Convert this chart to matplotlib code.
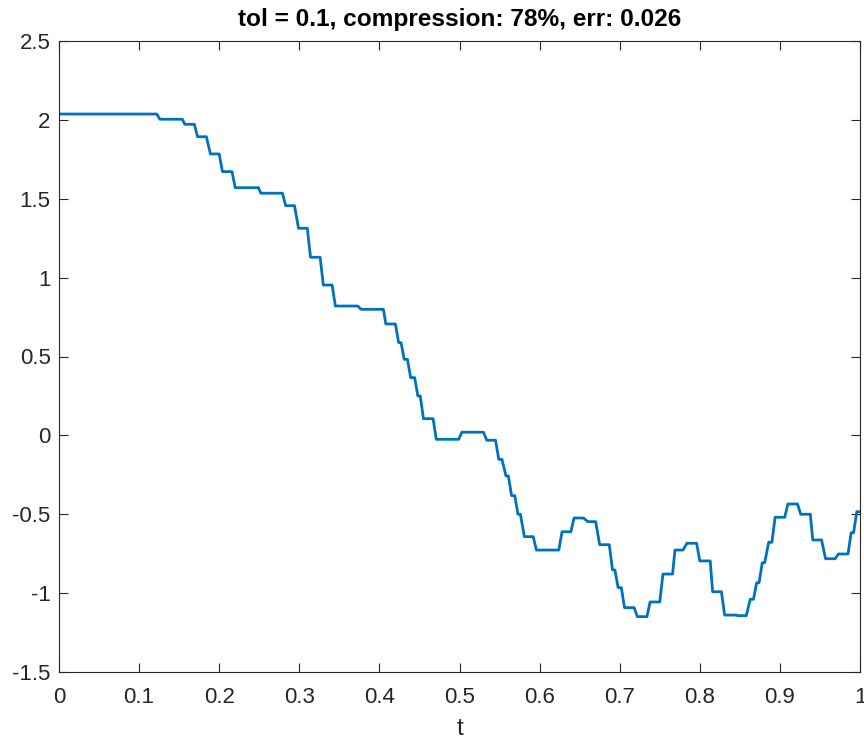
import matplotlib
matplotlib.use("Agg")
import matplotlib.pyplot as plt

plt.rcParams["font.family"] = ["Liberation Sans", "DejaVu Sans"]

# vertices of the compressed signal
t_pts = [
    0.000, 0.122, 0.126, 0.154, 0.157, 0.169, 0.173, 0.184, 0.189, 0.200,
    0.204, 0.216, 0.220, 0.249, 0.252, 0.279, 0.283, 0.294, 0.299, 0.310,
    0.314, 0.326, 0.330, 0.341, 0.345, 0.373, 0.377, 0.405, 0.408, 0.420,
    0.424, 0.427, 0.431, 0.435, 0.439, 0.444, 0.448, 0.451, 0.455, 0.467,
    0.471, 0.499, 0.503, 0.530, 0.534, 0.545, 0.549, 0.553, 0.558, 0.561,
    0.565, 0.569, 0.573, 0.576, 0.581, 0.592, 0.596, 0.624, 0.628, 0.639,
    0.643, 0.655, 0.660, 0.670, 0.675, 0.687, 0.691, 0.694, 0.698, 0.702,
    0.706, 0.718, 0.722, 0.734, 0.738, 0.750, 0.754, 0.766, 0.769, 0.779,
    0.784, 0.796, 0.800, 0.813, 0.816, 0.827, 0.831, 0.846, 0.847, 0.858,
    0.863, 0.867, 0.871, 0.874, 0.878, 0.881, 0.886, 0.890, 0.894, 0.906,
    0.910, 0.922, 0.926, 0.938, 0.941, 0.952, 0.957, 0.969, 0.973, 0.985,
    0.989, 0.992, 0.996, 1.000,
]
y_pts = [
    2.037, 2.037, 2.004, 2.004, 1.972, 1.972, 1.893, 1.893, 1.784, 1.784,
    1.672, 1.672, 1.570, 1.570, 1.535, 1.535, 1.456, 1.456, 1.313, 1.313,
    1.129, 1.129, 0.953, 0.953, 0.820, 0.820, 0.799, 0.799, 0.706, 0.706,
    0.588, 0.588, 0.482, 0.482, 0.366, 0.366, 0.250, 0.250, 0.106, 0.106,
    -0.025, -0.025, 0.020, 0.020, -0.031, -0.031, -0.152, -0.152, -0.257, -0.257,
    -0.382, -0.382, -0.500, -0.500, -0.642, -0.642, -0.727, -0.727, -0.611, -0.611,
    -0.524, -0.524, -0.547, -0.547, -0.693, -0.693, -0.853, -0.853, -0.965, -0.965,
    -1.092, -1.092, -1.149, -1.149, -1.056, -1.056, -0.879, -0.879, -0.727, -0.727,
    -0.684, -0.684, -0.796, -0.796, -0.991, -0.991, -1.139, -1.139, -1.143, -1.143,
    -1.039, -1.039, -0.934, -0.934, -0.807, -0.807, -0.678, -0.678, -0.519, -0.519,
    -0.435, -0.435, -0.500, -0.500, -0.663, -0.663, -0.782, -0.782, -0.752, -0.752,
    -0.617, -0.617, -0.484, -0.484,
]

x_ticks = [0, 0.1, 0.2, 0.3, 0.4, 0.5, 0.6, 0.7, 0.8, 0.9, 1]
x_labels = ["0", "0.1", "0.2", "0.3", "0.4", "0.5", "0.6", "0.7", "0.8", "0.9", "1"]
y_ticks = [-1.5, -1, -0.5, 0, 0.5, 1, 1.5, 2, 2.5]
y_labels = ["-1.5", "-1", "-0.5", "0", "0.5", "1", "1.5", "2", "2.5"]

fig = plt.figure(figsize=(8.64, 7.42), dpi=100)
ax = fig.add_axes([59 / 864, 70 / 742, 801 / 864, 631 / 742])

ax.plot(t_pts, y_pts, color="#0072BD", linewidth=2, solid_joinstyle="round")

ax.set_xlim(0, 1)
ax.set_ylim(-1.5, 2.5)
ax.set_xticks(x_ticks)
ax.set_xticklabels(x_labels)
ax.set_yticks(y_ticks)
ax.set_yticklabels(y_labels)

ax.tick_params(direction="in", length=6.5, width=0.8, top=True, right=True,
               labelsize=16, colors="#262626")
ax.tick_params(axis="x", pad=11)
ax.tick_params(axis="y", pad=6)
for s in ax.spines.values():
    s.set_color("#262626")
    s.set_linewidth(0.8)

ax.set_xlabel("t", fontsize=17.6, color="#262626", labelpad=7)
ax.set_title("tol = 0.1, compression: 78%, err: 0.026", fontsize=17.6,
             fontweight="bold", pad=11)

fig.savefig("out.png", dpi=100)
